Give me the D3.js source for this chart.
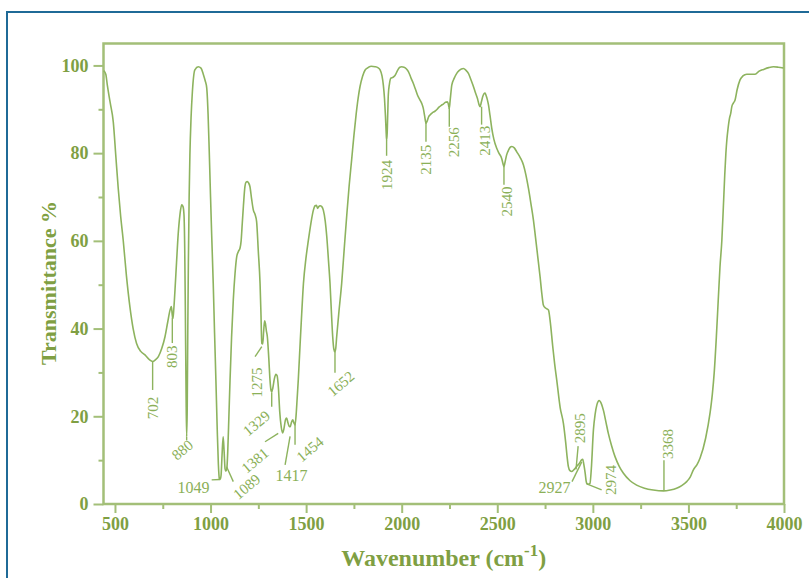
<!DOCTYPE html>
<html><head><meta charset="utf-8">
<script src="https://cdn.jsdelivr.net/npm/d3@7/dist/d3.min.js"></script>
<style>body{margin:0;background:#fff}svg{display:block}</style>
</head><body><svg id="chart" width="809" height="578"></svg>
<script>
// ---- data ----
const wavenumber = [441,452,460,475,491,505,517,530,543,560,578,595,613,635,657,680,697,712,727,745,762,776,788,795,800,803,807,814,822,831,840,849,856,861,865,868,872,875,878,881,884,888,892,898,905,918,936,950,962,972,980,987,993,1000,1006,1014,1021,1028,1035,1041,1046,1050,1055,1060,1066,1071,1076,1080,1085,1090,1096,1102,1110,1119,1128,1137,1146,1154,1160,1166,1172,1180,1186,1192,1199,1206,1215,1224,1233,1241,1250,1259,1264,1268,1273,1278,1283,1287,1292,1297,1305,1311,1316,1320,1326,1334,1342,1348,1355,1362,1370,1377,1384,1392,1398,1405,1412,1417,1423,1430,1436,1442,1448,1453,1459,1468,1477,1486,1499,1512,1525,1538,1547,1554,1560,1566,1573,1582,1590,1600,1608,1617,1625,1632,1639,1645,1650,1655,1660,1672,1686,1699,1712,1725,1738,1750,1762,1772,1782,1795,1808,1820,1840,1861,1875,1887,1897,1904,1910,1915,1919,1921,1924,1927,1930,1936,1943,1955,1965,1980,1990,2000,2012,2025,2035,2050,2060,2070,2083,2096,2106,2113,2120,2127,2134,2141,2148,2160,2172,2183,2195,2207,2218,2229,2239,2244,2249,2253,2258,2262,2275,2288,2300,2312,2323,2336,2349,2360,2372,2384,2396,2405,2410,2417,2424,2430,2436,2442,2448,2454,2462,2471,2482,2497,2510,2523,2530,2535,2540,2549,2560,2569,2576,2589,2602,2620,2637,2650,2663,2676,2689,2700,2712,2724,2733,2741,2752,2760,2768,2776,2790,2800,2811,2829,2846,2858,2866,2872,2880,2890,2898,2907,2918,2930,2940,2947,2953,2960,2965,2968,2976,2985,2992,3003,3012,3021,3028,3033,3040,3055,3068,3081,3098,3116,3138,3160,3195,3229,3270,3316,3369,3405,3438,3465,3491,3510,3526,3545,3561,3590,3613,3625,3635,3646,3656,3665,3675,3683,3690,3696,3701,3707,3715,3721,3727,3735,3744,3755,3770,3785,3805,3830,3849,3870,3893,3920,3945,3970,3997];
const transmittance = [98.8,98.0,95.5,91.5,87.2,79,72,65.5,60.2,52,45,40,36.6,34.8,34,32.9,32.5,32.9,33.6,35.5,38.2,41.5,44.2,45,43,42.3,44,48.8,55,61.7,66,68.2,67.8,66,58,45,25,15.3,22,40,55,70,79.6,88,94,99,99.7,99.4,98,96.5,94.9,89,80.7,70,61.3,50.4,39,28.3,17,9,5.8,5.6,6.5,11,15.3,12,8,7.5,8,12,20,28.3,38,46.5,52.5,56.4,57.6,58.3,60,64,68,72.4,73.4,73.5,73.2,72.4,69.5,67,66,64.4,57.5,50.3,43,36.6,36.5,39.5,41.8,41.2,39.5,38.2,33,28.3,26,25.6,26.5,28.6,29.6,29.3,26.5,21,17.5,16.2,17.2,19.2,19.6,18.5,17.7,17.6,18.6,19.2,18.5,18,20.5,24,28.3,36,43.5,50.3,56,60.2,64,67,68,68.1,67.4,67.8,68,67.8,67,64.5,61,55.5,50.3,44,38.2,35.3,34.7,35.5,38.2,44,50.3,58,65.5,72.5,78.4,84,89,92.5,95.2,97.5,98.9,99.4,99.8,99.7,99.5,99,97.6,95.5,92.5,88.5,84.5,83,84.5,89,93.3,95.8,97.1,97.3,97.7,99,99.6,99.7,99.6,99.2,98.6,97,96,94.8,93.2,92.1,91.2,90.2,88.5,86.8,87.4,88.3,88.7,89.2,89.5,89.9,90.5,90.9,91.2,91.6,91.7,91.2,90.2,91.8,94,95.5,97.1,98.2,98.8,99.2,99.3,98.9,98.2,97,95.6,94,92.5,91,90.6,91.7,92.9,93.5,93.7,93.1,92.2,91,88.6,85.7,83.2,81.1,79.9,78.8,77.6,76.9,77.8,79.6,80.8,81.4,81.5,81.2,80.3,79,77.3,75,72,68.5,64.8,60.8,56.3,51.8,48,45.4,44.7,44.5,44.2,42,36,32,28.3,22,18.4,14,10.5,8.5,7.6,7.4,7.7,8.1,8.7,9.3,10,10.2,9,7,5.2,4.7,4.5,4.7,8,16.9,20.5,22.6,23.4,23.6,23.3,21.4,18.8,16.1,13.3,10.8,8.6,7,5.3,4.3,3.6,3.2,3,3.2,3.6,4.2,5.1,6.2,7.8,9,10.5,15,20.7,25,30,38,46.5,54,60.2,68,75,80,83,85.5,88,89,90.6,91.4,92.1,94.5,96.7,97.6,98,98,98,98.7,99.1,99.5,99.7,99.6,99.4];
const xTicks = [500,1000,1500,2000,2500,3000,3500,4000];
const xMinorTicks = [750,1250,1750,2250,2750,3250,3750];
const yTicks = [0,20,40,60,80,100];
const yMinorTicks = [10,30,50,70,90];
const peakLabels = ["702","803","880","1049","1089","1275","1329","1381","1417","1454","1652","1924","2135","2256","2413","2540","2895","2927","2974","3368"];
// leader lines and label anchors, in data units (wavenumber, %T)
const peakLayout = [
  {x1:697,t1:32.4,x2:697,t2:26.0,tx:697,tt:21.9,rot:-90},
  {x1:800,t1:42.5,x2:800,t2:36.7,tx:800,tt:33.6,rot:-90},
  {x1:875,t1:15.3,x2:875,t2:14.5,tx:853,tt:12.3,rot:-40},
  {x1:1006,t1:5.5,x2:1049,t2:5.6,tx:911,tt:3.65,rot:0},
  {x1:1084,t1:8.5,x2:1119,t2:5.1,tx:1189,tt:3.95,rot:-40},
  {x1:1268,t1:35.9,x2:1233,t2:33.6,tx:1241,tt:27.7,rot:-90},
  {x1:1320,t1:25.5,x2:1320,t2:22.2,tx:1241,tt:18.4,rot:-40},
  {x1:1285,t1:14.2,x2:1354,t2:16.1,tx:1233,tt:9.9,rot:-40},
  {x1:1390,t1:8.9,x2:1416,t2:15.4,tx:1423,tt:6.4,rot:0},
  {x1:1442,t1:18.5,x2:1442,t2:13.5,tx:1520,tt:12.5,rot:-40},
  {x1:1651,t1:34.7,x2:1651,t2:29.9,tx:1682,tt:27.4,rot:-40},
  {x1:1921,t1:83,x2:1921,t2:79.4,tx:1921,tt:75.0,rot:-90},
  {x1:2127,t1:86.9,x2:2127,t2:82.6,tx:2127,tt:78.5,rot:-90},
  {x1:2249,t1:90.3,x2:2249,t2:86.0,tx:2274,tt:82.5,rot:-90},
  {x1:2418,t1:90.6,x2:2418,t2:86.5,tx:2436,tt:82.8,rot:-90},
  {x1:2535,t1:76.9,x2:2535,t2:72.8,tx:2551,tt:69.0,rot:-90},
  {x1:2923,t1:13.2,x2:2912,t2:7.9,tx:2933,tt:17.3,rot:-90},
  {x1:2891,t1:5.1,x2:2942,t2:9.6,tx:2799,tt:3.8,rot:0},
  {x1:2968,t1:4.6,x2:3046,t2:3.2,tx:3095,tt:5.5,rot:-90},
  {x1:3372,t1:3.2,x2:3372,t2:10.0,tx:3393,tt:13.7,rot:-90}
];

// ---- drawing ----
(function () {
const svg = d3.select("#chart");
const lineCol = "#8db35e", frameCol = "#a3bf78", textCol = "#7f9f43";
const mL = 103.5, mR = 784, mT = 43.5, mB = 504;
const x = d3.scaleLinear().domain([440, 4000]).range([mL, mR]);
const y = d3.scaleLinear().domain([0, 105]).range([mB, mT]);
const serif = "'Liberation Serif', 'Times New Roman', serif";

// outer blue frame
svg.append("rect").attr("x", 7).attr("y", 12).attr("width", 830).attr("height", 620)
  .attr("fill", "none").attr("stroke", "#1f6a97").attr("stroke-width", 2);

// ticks
const gx = svg.append("g").attr("transform", `translate(0,${mB})`)
  .call(d3.axisBottom(x).tickValues(xTicks).tickSize(9).tickFormat(d3.format("d")));
const gxm = svg.append("g").attr("transform", `translate(0,${mB})`)
  .call(d3.axisBottom(x).tickValues(xMinorTicks).tickSize(5).tickFormat(""));
const gy = svg.append("g").attr("transform", `translate(${mL},0)`)
  .call(d3.axisLeft(y).tickValues(yTicks).tickSize(10).tickFormat(d3.format("d")));
const gym = svg.append("g").attr("transform", `translate(${mL},0)`)
  .call(d3.axisLeft(y).tickValues(yMinorTicks).tickSize(5).tickFormat(""));
[gx, gxm, gy, gym].forEach(g => {
  g.select(".domain").remove();
  g.selectAll(".tick line").attr("stroke", frameCol).attr("stroke-width", 2);
  g.selectAll(".tick text").attr("fill", textCol).attr("font-family", serif)
    .attr("font-weight", "bold").attr("font-size", 18);
});
gx.selectAll(".tick text").attr("y", 13);
gy.selectAll(".tick text").attr("x", -15);

// plot frame
svg.append("rect").attr("x", mL).attr("y", mT).attr("width", mR - mL).attr("height", mB - mT)
  .attr("fill", "none").attr("stroke", frameCol).attr("stroke-width", 2.5);

// spectrum
const pts = wavenumber.map((w, i) => [w, transmittance[i]]);
const line = d3.line().x(d => x(d[0])).y(d => y(d[1])).curve(d3.curveMonotoneX);
svg.append("path").datum(pts).attr("d", line).attr("fill", "none")
  .attr("stroke", lineCol).attr("stroke-width", 1.6).attr("stroke-linejoin", "round");

// peak annotations
const ann = svg.append("g");
peakLabels.forEach((lab, i) => {
  const p = peakLayout[i];
  ann.append("line").attr("x1", x(p.x1)).attr("y1", y(p.t1)).attr("x2", x(p.x2)).attr("y2", y(p.t2))
    .attr("stroke", lineCol).attr("stroke-width", 1.4);
  ann.append("text").attr("transform", `translate(${x(p.tx)},${y(p.tt)}) rotate(${p.rot})`)
    .attr("text-anchor", "middle").attr("dominant-baseline", "central")
    .attr("font-family", serif).attr("font-size", p.rot === 0 ? 16 : 15)
    .attr("fill", "#8bb058").text(lab);
});

// axis titles
const xt = svg.append("text").attr("x", (mL + mR) / 2).attr("y", 566).attr("text-anchor", "middle")
  .attr("font-family", serif).attr("font-weight", "bold").attr("font-size", 24).attr("fill", textCol);
xt.append("tspan").text("Wavenumber (cm");
xt.append("tspan").attr("dy", -10).attr("font-size", 17).text("-1");
xt.append("tspan").attr("dy", 10).text(")");

svg.append("text").attr("transform", `translate(56,283) rotate(-90)`)
  .attr("text-anchor", "middle").attr("font-family", serif).attr("font-weight", "bold")
  .attr("font-size", 22).attr("fill", textCol).text("Transmittance %");
})();
</script>
</body></html>
